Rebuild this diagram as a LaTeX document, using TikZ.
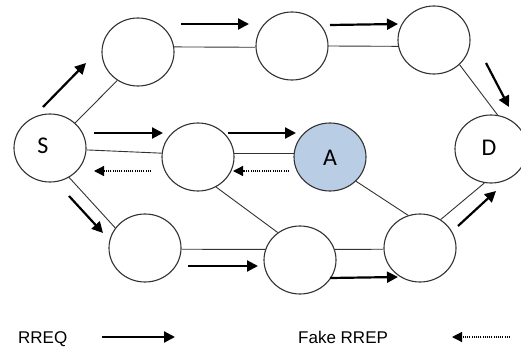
\documentclass[tikz,border=0pt]{standalone}
\usepackage{fontspec}
\setmainfont{Liberation Sans}
\newfontfamily\calfont{Carlito}
\usetikzlibrary{shapes.geometric,arrows.meta}
\definecolor{nodeblue}{RGB}{185,205,229}
\definecolor{edgegray}{RGB}{50,50,50}
\tikzset{
  netnode/.style={ellipse, draw=edgegray, line width=1.1pt, minimum width=72pt, minimum height=68pt, inner sep=0pt, fill=white},
  lbl/.style={font=\calfont\fontsize{24}{24}\selectfont, inner sep=0pt},
  link/.style={draw=edgegray, line width=0.9pt},
  req/.style={line width=2.2pt, -{Triangle[length=11pt,width=11pt]}},
  rep/.style={line width=1.2pt, dash pattern=on 1pt off 1.2pt, -{Triangle[length=10pt,width=10pt]}},
  legend/.style={font=\fontsize{17}{17}\selectfont, inner sep=0pt, anchor=base west}
}
\begin{document}
\begin{tikzpicture}[x=1pt,y=-1pt]
\useasboundingbox (0,0) rectangle (521,358);
% nodes
\node[netnode] (S) at (50,148) {};
\node[netnode] (N1) at (138,52) {};
\node[netnode] (N2) at (292,46) {};
\node[netnode] (N3) at (434,40) {};
\node[netnode] (D) at (491,149) {};
\node[netnode] (M) at (198,157) {};
\node[netnode, fill=nodeblue] (A) at (330,157) {};
\node[netnode] (B1) at (145,248) {};
\node[netnode] (B2) at (300,260) {};
\node[netnode] (B3) at (420,248) {};
\node[lbl] (Slab) at (43,146) {S};
\node[lbl] (Alab) at (330,158) {A};
\node[lbl] (Dlab) at (489,148) {D};
% links
\draw[link] (S.45) -- (N1.234);
\draw[link] (N1.8) -- (N2.182);
\draw[link] (N2.east) -- (N3.190);
\draw[link] (N3.-44) -- (D.79);
\draw[link] (S.-3) -- (M.174);
\draw[link] (M.6) -- (A.174);
\draw[link] (S.-57) -- (B1.146);
\draw[link] (M.-59) -- (B2.129);
\draw[link] (A.-43) -- (B3.110);
\draw[link] (B1.-2) -- (B2.163);
\draw[link] (B2.17) -- (B3.182);
\draw[link] (B3.54) -- (D.259);
% arrow end points
\coordinate (r1a) at (43,107); \coordinate (r1b) at (86,63);
\coordinate (r2a) at (181,24); \coordinate (r2b) at (249,24);
\coordinate (r3a) at (330,25); \coordinate (r3b) at (398,24);
\coordinate (r4a) at (486,63); \coordinate (r4b) at (509,107);
\coordinate (r5a) at (94,133); \coordinate (r5b) at (163,133);
\coordinate (r6a) at (228,133); \coordinate (r6b) at (296,133);
\coordinate (r7a) at (69,196); \coordinate (r7b) at (103,233);
\coordinate (r8a) at (188,266); \coordinate (r8b) at (258,266);
\coordinate (r9a) at (330,278); \coordinate (r9b) at (398,277);
\coordinate (r10a) at (458,226); \coordinate (r10b) at (496,191);
\coordinate (p1a) at (289,171); \coordinate (p1b) at (233,171);
\coordinate (p2a) at (151,171); \coordinate (p2b) at (94,171);
% RREQ arrows
\draw[req] (r1a) -- (r1b);
\draw[req] (r2a) -- (r2b);
\draw[req] (r3a) -- (r3b);
\draw[req] (r4a) -- (r4b);
\draw[req] (r5a) -- (r5b);
\draw[req] (r6a) -- (r6b);
\draw[req] (r7a) -- (r7b);
\draw[req] (r8a) -- (r8b);
\draw[req] (r9a) -- (r9b);
\draw[req] (r10a) -- (r10b);
% fake RREP arrows
\draw[rep] (p1a) -- (p1b);
\draw[rep] (p2a) -- (p2b);
% legend
\node[legend] (lreq) at (18,343) {RREQ};
\coordinate (lra) at (102,337); \coordinate (lrb) at (175,337);
\draw[req] (lra) -- (lrb);
\node[legend] (lrep) at (298,343) {Fake RREP};
\coordinate (lpa) at (510,337); \coordinate (lpb) at (452,337);
\draw[rep] (lpa) -- (lpb);
\end{tikzpicture}
\end{document}
